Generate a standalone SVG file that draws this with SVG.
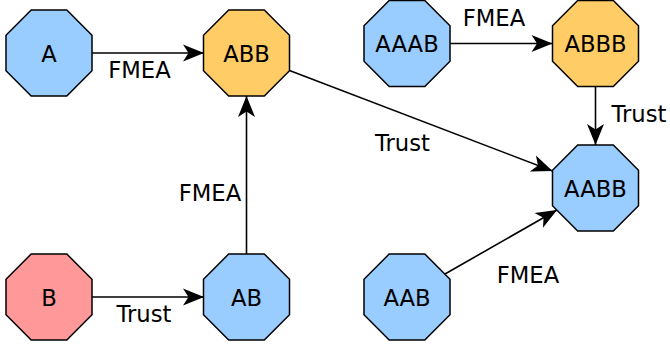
<svg xmlns="http://www.w3.org/2000/svg" width="670" height="345" viewBox="0 0 670 345">
<style>
.n polygon{stroke:#000;stroke-width:1.5}
.blue{fill:#99ccff}
.orange{fill:#ffcc66}
.red{fill:#ff9999}
text{font-family:"DejaVu Sans",Verdana,sans-serif;font-size:22.7px;fill:#000}
.n text{text-anchor:middle}
.lbl{text-anchor:middle}
.e line{stroke:#000;stroke-width:1.6;marker-end:url(#ah)}
</style>
<defs>
<marker id="ah" markerUnits="userSpaceOnUse" markerWidth="26" markerHeight="22" viewBox="-23 -11 26 22" refX="0" refY="0" orient="auto">
<path d="M0,0 L-21,-8.5 L-15.5,0 L-21,8.5 Z" fill="#000"/>
</marker>
</defs>
<rect width="670" height="345" fill="#fff"/>
<g id="connectors" class="e">
<line x1="92" y1="53" x2="204" y2="53"/>
<line x1="92" y1="297" x2="204" y2="297"/>
<line x1="246.5" y1="254" x2="246.5" y2="96"/>
<line x1="450" y1="43.5" x2="552.5" y2="43.5"/>
<line x1="595.5" y1="86.5" x2="595.5" y2="145"/>
<line x1="289.5" y1="70.5" x2="552.5" y2="171"/>
<line x1="445" y1="274" x2="557" y2="210"/>
</g>
<g id="labels">
<text class="lbl" x="139.5" y="78">FMEA</text>
<text class="lbl" x="494" y="26">FMEA</text>
<text class="lbl" x="639" y="122">Trust</text>
<text class="lbl" x="402.5" y="151">Trust</text>
<text class="lbl" x="210" y="201">FMEA</text>
<text class="lbl" x="144" y="322">Trust</text>
<text class="lbl" x="528" y="282.5">FMEA</text>
</g>
<g id="A" class="n" transform="translate(49,53)"><polygon class="blue" points="-17.8,-43 17.8,-43 43,-17.8 43,17.8 17.8,43 -17.8,43 -43,17.8 -43,-17.8"/><text y="8.5">A</text></g>
<g id="ABB" class="n" transform="translate(246.5,53)"><polygon class="orange" points="-17.8,-43 17.8,-43 43,-17.8 43,17.8 17.8,43 -17.8,43 -43,17.8 -43,-17.8"/><text y="8.5">ABB</text></g>
<g id="AAAB" class="n" transform="translate(407,43.5)"><polygon class="blue" points="-17.8,-43 17.8,-43 43,-17.8 43,17.8 17.8,43 -17.8,43 -43,17.8 -43,-17.8"/><text y="8.5">AAAB</text></g>
<g id="ABBB" class="n" transform="translate(595.5,43.5)"><polygon class="orange" points="-17.8,-43 17.8,-43 43,-17.8 43,17.8 17.8,43 -17.8,43 -43,17.8 -43,-17.8"/><text y="8.5">ABBB</text></g>
<g id="AABB" class="n" transform="translate(595.5,188)"><polygon class="blue" points="-17.8,-43 17.8,-43 43,-17.8 43,17.8 17.8,43 -17.8,43 -43,17.8 -43,-17.8"/><text y="8.5">AABB</text></g>
<g id="B" class="n" transform="translate(49,297)"><polygon class="red" points="-17.8,-43 17.8,-43 43,-17.8 43,17.8 17.8,43 -17.8,43 -43,17.8 -43,-17.8"/><text y="8.5">B</text></g>
<g id="AB" class="n" transform="translate(246.5,297)"><polygon class="blue" points="-17.8,-43 17.8,-43 43,-17.8 43,17.8 17.8,43 -17.8,43 -43,17.8 -43,-17.8"/><text y="8.5">AB</text></g>
<g id="AAB" class="n" transform="translate(407,297)"><polygon class="blue" points="-17.8,-43 17.8,-43 43,-17.8 43,17.8 17.8,43 -17.8,43 -43,17.8 -43,-17.8"/><text y="8.5">AAB</text></g>
</svg>
